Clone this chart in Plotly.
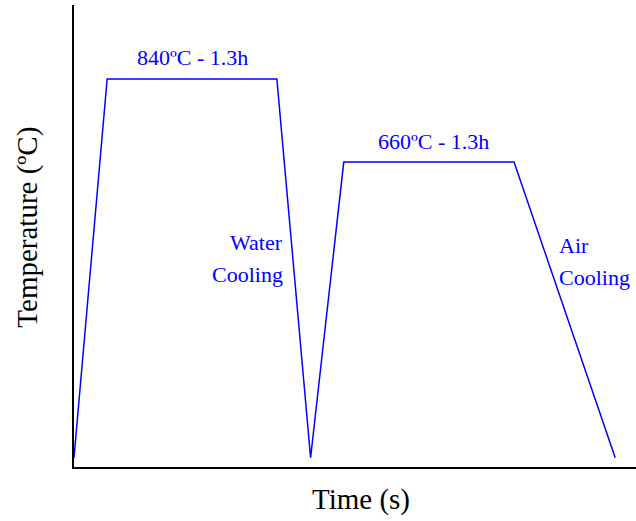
import plotly.graph_objects as go

# Heat-treatment cycle (arbitrary time units, temperature in ºC)
time_pts = [0.0, 0.59, 3.61, 4.21, 4.80, 7.83, 9.63]
temp_pts = [20, 840, 840, 20, 660, 660, 20]

hold_labels = ["840ºC - 1.3h", "660ºC - 1.3h"]
cooling_labels = [["Water", "Cooling"], ["Air", "Cooling"]]
x_title = "Time (s)"
y_title = "Temperature (ºC)"

BLUE = "#0000ff"
SERIF = "Liberation Serif, Times New Roman, serif"
LAB = 22

fig = go.Figure()
fig.add_trace(go.Scatter(x=time_pts, y=temp_pts, mode="lines",
                         line=dict(color=BLUE, width=1.5), showlegend=False,
                         hoverinfo="skip"))

ann = []
ann.append(dict(x=(time_pts[1] + time_pts[2]) / 2, y=temp_pts[1], text=hold_labels[0],
                xref="x", yref="y", showarrow=False, yanchor="middle", yshift=21,
                font=dict(family=SERIF, size=LAB, color=BLUE)))
ann.append(dict(x=(time_pts[4] + time_pts[5]) / 2 + 0.09, y=temp_pts[4], text=hold_labels[1],
                xref="x", yref="y", showarrow=False, yanchor="middle", yshift=21,
                font=dict(family=SERIF, size=LAB, color=BLUE)))
for txt, yv in zip(cooling_labels[0], [485, 416]):
    ann.append(dict(x=3.75, y=yv, text=txt, xref="x", yref="y", showarrow=False,
                    xanchor="right", yanchor="middle",
                    font=dict(family=SERIF, size=LAB, color=BLUE)))
for txt, yv in zip(cooling_labels[1], [480, 411]):
    ann.append(dict(x=8.59, y=yv, text=txt, xref="x", yref="y", showarrow=False,
                    xanchor="left", yanchor="middle",
                    font=dict(family=SERIF, size=LAB, color=BLUE)))
# axis titles
ann.append(dict(x=0.511, y=-0.0714, xref="paper", yref="paper", text=x_title,
                showarrow=False, xanchor="center", yanchor="middle",
                font=dict(family=SERIF, size=29, color="black")))
ann.append(dict(x=-0.082, y=0.52, xref="paper", yref="paper", text=y_title,
                showarrow=False, xanchor="center", yanchor="middle", textangle=-90,
                font=dict(family=SERIF, size=29, color="black")))

fig.update_layout(
    width=636, height=521,
    margin=dict(l=74, r=0, t=5, b=54),
    plot_bgcolor="white", paper_bgcolor="white",
    annotations=ann,
    xaxis=dict(range=[0, 10], showgrid=False, zeroline=False, showticklabels=False,
               ticks="", showline=True, linecolor="black", linewidth=2, automargin=False),
    yaxis=dict(range=[0, 1000], showgrid=False, zeroline=False, showticklabels=False,
               ticks="", showline=True, linecolor="black", linewidth=2, automargin=False),
)

fig.write_html("out.html", config={"displayModeBar": False},
               post_script="document.body.style.margin='0';")
